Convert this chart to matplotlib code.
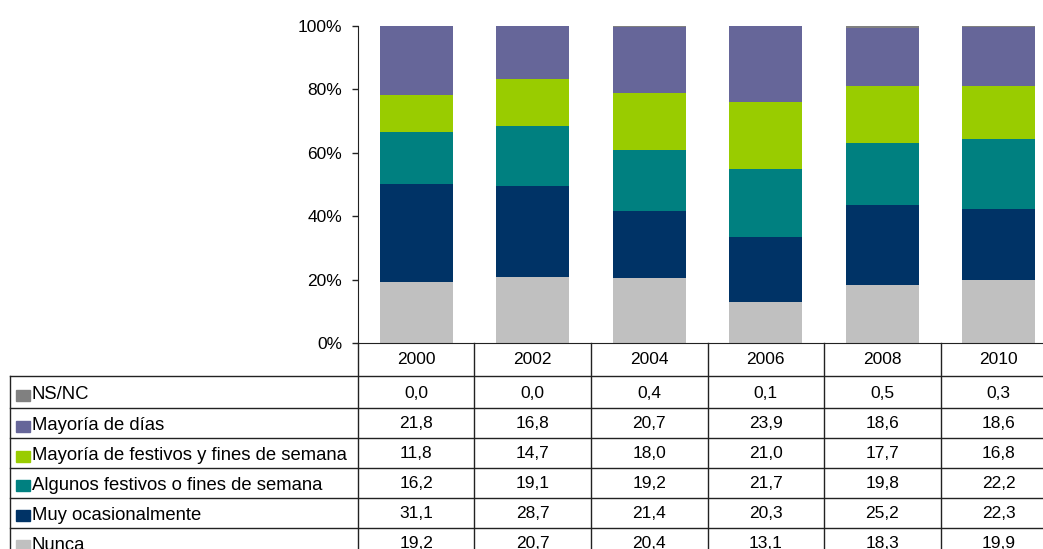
import numpy as np
import matplotlib.pyplot as plt

plt.rcParams['font.family'] = ['Liberation Sans', 'DejaVu Sans']

years = ['2000', '2002', '2004', '2006', '2008', '2010']
ns_nc = [0.0, 0.0, 0.4, 0.1, 0.5, 0.3]
mayoria_dias = [21.8, 16.8, 20.7, 23.9, 18.6, 18.6]
mayoria_festivos = [11.8, 14.7, 18.0, 21.0, 17.7, 16.8]
algunos_festivos = [16.2, 19.1, 19.2, 21.7, 19.8, 22.2]
muy_ocasional = [31.1, 28.7, 21.4, 20.3, 25.2, 22.3]
nunca = [19.2, 20.7, 20.4, 13.1, 18.3, 19.9]

# table order (top to bottom) and colours
labels = ['NS/NC', 'Mayoría de días', 'Mayoría de festivos y fines de semana',
          'Algunos festivos o fines de semana', 'Muy ocasionalmente', 'Nunca']
series = [ns_nc, mayoria_dias, mayoria_festivos, algunos_festivos, muy_ocasional, nunca]
colors = ['#808080', '#666699', '#99CC00', '#008080', '#003366', '#C0C0C0']

W, H = 1043, 549
fig = plt.figure(figsize=(W / 100, H / 100), dpi=100)

# pixel layout
ax_left, ax_top, ax_bottom = 358, 26, 343
col_w = 116.5
ax_right = ax_left + col_w * 6
lab_left = 10
row_edges = [343, 376, 408, 438, 468, 497.5, 527.5, 557.5]

ax = fig.add_axes([ax_left / W, 1 - ax_bottom / H, (ax_right - ax_left) / W,
                   (ax_bottom - ax_top) / H])

data = np.array(series)
pct = data / data.sum(axis=0) * 100
x = np.arange(len(years))
bottom = np.zeros(len(years))
for i in range(len(series) - 1, -1, -1):
    ax.bar(x, pct[i], 0.627, bottom=bottom, color=colors[i], linewidth=0)
    bottom += pct[i]

ax.set_xlim(-0.5, 5.5)
ax.set_ylim(0, 100)
ax.set_yticks([0, 20, 40, 60, 80, 100])
ax.set_yticklabels(['0%', '20%', '40%', '60%', '80%', '100%'], fontsize=12.5)
ax.tick_params(axis='y', length=4.5, width=1, color='#222222', pad=7)
ax.set_xticks([])
for s in ['top', 'right']:
    ax.spines[s].set_visible(False)
ax.spines['left'].set_color('#222222')
ax.spines['bottom'].set_color('#222222')

# data table below the chart
tab_x0 = -0.5 - (ax_left - lab_left) / col_w
axt = fig.add_axes([lab_left / W, 1 - row_edges[-1] / H, (ax_right - lab_left) / W,
                    (row_edges[-1] - row_edges[0]) / H])
axt.set_xlim(tab_x0, 5.5)
axt.set_ylim(row_edges[-1], row_edges[0])
axt.axis('off')

lc = '#222222'
# horizontal lines
for yv in row_edges[1:-1]:
    axt.plot([tab_x0, 5.5], [yv, yv], color=lc, lw=1, clip_on=False)
# vertical lines
for c in range(7):
    axt.plot([c - 0.5, c - 0.5], [row_edges[0], row_edges[-1]], color=lc, lw=1, clip_on=False)
axt.plot([tab_x0, tab_x0], [row_edges[1], row_edges[-1]], color=lc, lw=1, clip_on=False)

# header
hy = (row_edges[0] + row_edges[1]) / 2
for c, yr in enumerate(years):
    axt.text(c, hy, yr, ha='center', va='center', fontsize=12.5)

# rows
sq = 14 / col_w
for r, (lab, vals, col) in enumerate(zip(labels, series, colors)):
    yc = (row_edges[r + 1] + row_edges[r + 2]) / 2
    axt.add_patch(plt.Rectangle((tab_x0 + 6 / col_w, yc - 2.5), sq, 11, color=col))
    axt.text(tab_x0 + 22 / col_w, yc + 2.5, lab, ha='left', va='center', fontsize=13.3)
    for c, v in enumerate(vals):
        axt.text(c, yc + 1, f'{v:.1f}'.replace('.', ','), ha='center', va='center', fontsize=12.5)

fig.savefig('out.png', dpi=100)
